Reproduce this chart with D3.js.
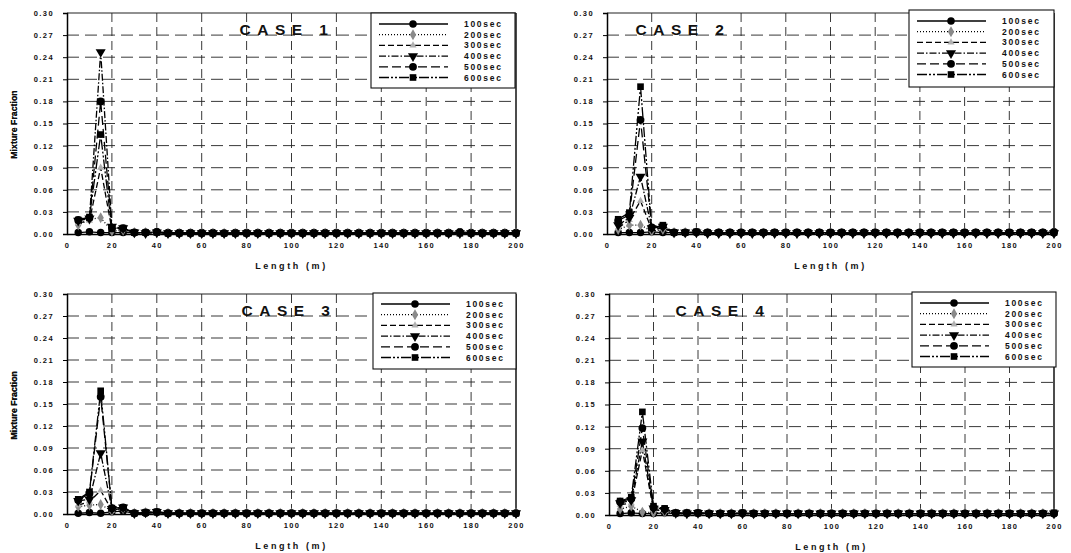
<!DOCTYPE html>
<html>
<head>
<meta charset="utf-8">
<script src="https://cdn.jsdelivr.net/npm/d3@7"></script>
<style>
  body { margin: 0; background: #fff; }
  svg { display: block; }
  text { font-family: "Liberation Sans", Arial, sans-serif; fill: #111; }
</style>
</head>
<body>
<div id="container"></div>
<script>
// x positions (m)
const lengths = [5,10,15,20,25,30,35,40,45,50, 55,60,65,70,75,80,85,90,95,100,
  105,110,115,120,125,130,135,140,145,150, 155,160,165,170,175,180,185,190,195,200];
const seriesNames = ['100sec','200sec','300sec','400sec','500sec','600sec'];
const xTicks = [0,20,40,60,80,100,120,140,160,180,200];
const yTicks = [0,0.03,0.06,0.09,0.12,0.15,0.18,0.21,0.24,0.27,0.30];

// CASE 1
const c1s100 = [0.002,0.003,0.002,0.002,0.002,0.002,0.002,0.003,0.002,0.002, 0.002,0.002,0.002,0.001,0.002,0.002,0.002,0.002,0.002,0.002,
  0.002,0.002,0.002,0.002,0.002,0.002,0.002,0.002,0.002,0.002, 0.002,0.002,0.002,0.002,0.003,0.002,0.002,0.002,0.002,0.002];
const c1s200 = [0.012,0.020,0.022,0.004,0.005,0.002,0.002,0.002,0.001,0.001, 0.001,0.001,0.001,0.001,0.001,0.001,0.001,0.001,0.001,0.001,
  0.001,0.001,0.001,0.001,0.001,0.001,0.001,0.001,0.001,0.001, 0.001,0.001,0.001,0.001,0.001,0.001,0.001,0.001,0.001,0.001];
const c1s300 = [0.015,0.018,0.090,0.006,0.007,0.002,0.002,0.002,0.001,0.001, 0.001,0.001,0.001,0.001,0.001,0.001,0.001,0.001,0.001,0.001,
  0.001,0.001,0.001,0.001,0.001,0.001,0.001,0.001,0.001,0.001, 0.001,0.001,0.001,0.001,0.001,0.001,0.001,0.001,0.001,0.001];
const c1s400 = [0.018,0.021,0.247,0.010,0.008,0.002,0.001,0.002,0.001,0.001, 0.001,0.001,0.001,0.001,0.001,0.001,0.001,0.001,0.001,0.001,
  0.001,0.001,0.001,0.001,0.001,0.001,0.001,0.001,0.001,0.001, 0.001,0.001,0.001,0.001,0.001,0.001,0.001,0.001,0.001,0.001];
const c1s500 = [0.019,0.022,0.180,0.008,0.008,0.002,0.002,0.003,0.001,0.001, 0.001,0.001,0.001,0.001,0.001,0.001,0.001,0.001,0.001,0.001,
  0.001,0.001,0.001,0.001,0.001,0.001,0.001,0.001,0.001,0.001, 0.001,0.001,0.001,0.001,0.002,0.001,0.001,0.001,0.001,0.001];
const c1s600 = [0.019,0.023,0.135,0.007,0.008,0.002,0.002,0.002,0.001,0.001, 0.001,0.001,0.001,0.001,0.001,0.001,0.001,0.001,0.001,0.001,
  0.001,0.001,0.001,0.001,0.001,0.001,0.001,0.001,0.001,0.001, 0.001,0.001,0.001,0.001,0.001,0.001,0.001,0.001,0.001,0.001];

// CASE 2
const c2s100 = [0.002,0.002,0.002,0.003,0.002,0.002,0.002,0.002,0.002,0.002, 0.002,0.002,0.002,0.002,0.002,0.002,0.002,0.002,0.002,0.002,
  0.002,0.002,0.002,0.002,0.002,0.002,0.002,0.002,0.002,0.002, 0.002,0.002,0.002,0.002,0.002,0.002,0.002,0.002,0.002,0.003];
const c2s200 = [0.006,0.012,0.012,0.004,0.006,0.002,0.002,0.002,0.001,0.001, 0.001,0.001,0.001,0.001,0.001,0.001,0.001,0.001,0.001,0.001,
  0.001,0.001,0.001,0.001,0.001,0.001,0.001,0.001,0.001,0.001, 0.001,0.001,0.001,0.001,0.001,0.001,0.001,0.001,0.001,0.001];
const c2s300 = [0.008,0.019,0.045,0.006,0.008,0.002,0.002,0.002,0.001,0.001, 0.001,0.001,0.001,0.001,0.001,0.001,0.001,0.001,0.001,0.001,
  0.001,0.001,0.001,0.001,0.001,0.001,0.001,0.001,0.001,0.001, 0.001,0.001,0.001,0.001,0.001,0.001,0.001,0.001,0.001,0.001];
const c2s400 = [0.012,0.022,0.078,0.008,0.010,0.002,0.002,0.002,0.001,0.001, 0.001,0.001,0.001,0.001,0.001,0.001,0.001,0.001,0.001,0.001,
  0.001,0.001,0.001,0.001,0.001,0.001,0.001,0.001,0.001,0.001, 0.001,0.001,0.001,0.001,0.001,0.001,0.001,0.001,0.001,0.001];
const c2s500 = [0.018,0.026,0.155,0.009,0.011,0.002,0.002,0.003,0.002,0.002, 0.002,0.002,0.002,0.002,0.002,0.002,0.002,0.002,0.002,0.002,
  0.002,0.002,0.002,0.002,0.002,0.002,0.002,0.002,0.002,0.002, 0.002,0.002,0.002,0.002,0.002,0.002,0.002,0.002,0.002,0.002];
const c2s600 = [0.020,0.029,0.200,0.008,0.012,0.002,0.002,0.003,0.002,0.002, 0.002,0.002,0.002,0.002,0.002,0.002,0.002,0.002,0.002,0.002,
  0.002,0.002,0.002,0.002,0.002,0.002,0.002,0.002,0.002,0.002, 0.002,0.002,0.002,0.002,0.002,0.002,0.002,0.002,0.002,0.002];

// CASE 3
const c3s100 = [0.001,0.002,0.001,0.003,0.004,0.001,0.001,0.002,0.001,0.001, 0.001,0.001,0.001,0.001,0.001,0.001,0.001,0.001,0.001,0.001,
  0.001,0.001,0.001,0.001,0.001,0.001,0.001,0.001,0.001,0.001, 0.001,0.001,0.001,0.001,0.001,0.001,0.001,0.001,0.001,0.001];
const c3s200 = [0.010,0.012,0.013,0.004,0.007,0.001,0.002,0.002,0.001,0.001, 0.001,0.001,0.001,0.001,0.001,0.001,0.001,0.001,0.001,0.001,
  0.001,0.001,0.001,0.001,0.001,0.001,0.001,0.001,0.001,0.001, 0.001,0.001,0.001,0.001,0.001,0.001,0.001,0.001,0.001,0.001];
const c3s300 = [0.012,0.017,0.032,0.005,0.008,0.001,0.002,0.002,0.001,0.001, 0.001,0.001,0.001,0.001,0.001,0.001,0.001,0.001,0.001,0.001,
  0.001,0.001,0.001,0.001,0.001,0.001,0.001,0.001,0.001,0.001, 0.001,0.001,0.001,0.001,0.001,0.001,0.001,0.001,0.001,0.001];
const c3s400 = [0.018,0.020,0.083,0.007,0.009,0.001,0.002,0.003,0.001,0.001, 0.001,0.001,0.001,0.001,0.001,0.001,0.001,0.001,0.001,0.001,
  0.001,0.001,0.001,0.001,0.001,0.001,0.001,0.001,0.001,0.001, 0.001,0.001,0.001,0.001,0.001,0.001,0.001,0.001,0.001,0.001];
const c3s500 = [0.019,0.028,0.160,0.008,0.009,0.001,0.002,0.003,0.001,0.001, 0.001,0.001,0.001,0.001,0.001,0.001,0.001,0.001,0.001,0.001,
  0.001,0.001,0.001,0.001,0.001,0.001,0.001,0.001,0.001,0.001, 0.001,0.001,0.001,0.001,0.001,0.001,0.001,0.001,0.001,0.001];
const c3s600 = [0.020,0.030,0.168,0.008,0.009,0.001,0.002,0.003,0.001,0.001, 0.001,0.001,0.001,0.001,0.001,0.001,0.001,0.001,0.001,0.001,
  0.001,0.001,0.001,0.001,0.001,0.001,0.001,0.001,0.001,0.001, 0.001,0.001,0.001,0.001,0.001,0.001,0.001,0.001,0.001,0.001];

// CASE 4
const c4s100 = [0.002,0.003,0.002,0.002,0.003,0.002,0.002,0.002,0.002,0.002, 0.002,0.002,0.002,0.002,0.002,0.002,0.002,0.002,0.002,0.002,
  0.002,0.002,0.002,0.002,0.002,0.002,0.002,0.002,0.002,0.002, 0.002,0.002,0.002,0.002,0.002,0.002,0.002,0.002,0.002,0.002];
const c4s200 = [0.008,0.012,0.004,0.003,0.004,0.002,0.002,0.002,0.002,0.002, 0.002,0.002,0.002,0.002,0.002,0.002,0.002,0.002,0.002,0.002,
  0.002,0.002,0.002,0.002,0.002,0.002,0.002,0.002,0.002,0.002, 0.002,0.002,0.002,0.002,0.002,0.002,0.002,0.002,0.002,0.002];
const c4s300 = [0.014,0.016,0.088,0.007,0.006,0.002,0.002,0.002,0.002,0.002, 0.002,0.002,0.002,0.002,0.002,0.002,0.002,0.002,0.002,0.002,
  0.002,0.002,0.002,0.002,0.002,0.002,0.002,0.002,0.002,0.002, 0.002,0.002,0.002,0.002,0.002,0.002,0.002,0.002,0.002,0.002];
const c4s400 = [0.016,0.020,0.100,0.009,0.007,0.003,0.002,0.003,0.002,0.002, 0.002,0.002,0.002,0.002,0.002,0.002,0.002,0.002,0.002,0.002,
  0.002,0.002,0.002,0.002,0.002,0.002,0.002,0.002,0.002,0.002, 0.002,0.002,0.002,0.002,0.002,0.002,0.002,0.002,0.002,0.002];
const c4s500 = [0.018,0.022,0.118,0.010,0.008,0.003,0.003,0.003,0.002,0.002, 0.002,0.003,0.002,0.002,0.002,0.002,0.002,0.002,0.002,0.002,
  0.002,0.002,0.002,0.002,0.002,0.002,0.002,0.002,0.002,0.002, 0.002,0.002,0.002,0.002,0.002,0.002,0.002,0.002,0.002,0.002];
const c4s600 = [0.019,0.024,0.140,0.012,0.009,0.003,0.003,0.003,0.002,0.002, 0.002,0.003,0.002,0.002,0.002,0.002,0.002,0.002,0.002,0.002,
  0.002,0.002,0.002,0.002,0.002,0.002,0.002,0.002,0.002,0.002, 0.002,0.002,0.002,0.002,0.002,0.002,0.002,0.002,0.002,0.003];

const W = 1071, H = 553;
const svg = d3.select('#container').append('svg').attr('width', W).attr('height', H);

// line style + marker per series
const dashes = [null, '1,2', '6,3', '7,2,1.5,2', '9,4', '10,2,2,2,2,2'];
const markerType = [d3.symbolCircle, d3.symbolDiamond, d3.symbolTriangle, d3.symbolTriangle, d3.symbolCircle, d3.symbolSquare];
const markerFill = ['#000', '#8a8a8a', '#b0b0b0', '#000', '#000', '#000'];
const markerSize = [44, 34, 22, 44, 48, 44];
const markerRot = [0, 0, 0, 180, 0, 0];

const panels = [
  {title: 'CASE 1', series: [c1s100,c1s200,c1s300,c1s400,c1s500,c1s600], l: 67, r: 516, t: 13, b: 234, tx: 287, ty: 35, lg: [371, 13, 144, 75]},
  {title: 'CASE 2', series: [c2s100,c2s200,c2s300,c2s400,c2s500,c2s600], l: 607, r: 1054, t: 13, b: 234, tx: 683, ty: 35, lg: [909, 10, 145, 77]},
  {title: 'CASE 3', series: [c3s100,c3s200,c3s300,c3s400,c3s500,c3s600], l: 67, r: 516, t: 294, b: 514, tx: 289, ty: 316, lg: [373, 293, 143, 76]},
  {title: 'CASE 4', series: [c4s100,c4s200,c4s300,c4s400,c4s500,c4s600], l: 609, r: 1054, t: 294, b: 515, tx: 723, ty: 316, lg: [912, 292, 144, 75]}
];

panels.forEach(drawPanel);

function drawPanel(p){
  const x = d3.scaleLinear().domain([0, 200]).range([p.l, p.r]);
  const y = d3.scaleLinear().domain([0, 0.30]).range([p.b, p.t]);
  const g = svg.append('g');

  // dashed grid
  g.selectAll('.vg').data(xTicks.slice(1, -1)).enter().append('line')
    .attr('x1', d => x(d)).attr('x2', d => x(d)).attr('y1', p.t).attr('y2', p.b)
    .attr('stroke', '#222').attr('stroke-width', 0.9).attr('stroke-dasharray', '9,5');
  g.selectAll('.hg').data(yTicks.slice(1, -1)).enter().append('line')
    .attr('x1', p.l).attr('x2', p.r).attr('y1', d => y(d)).attr('y2', d => y(d))
    .attr('stroke', '#222').attr('stroke-width', 0.9).attr('stroke-dasharray', '12,6');

  // frame top/right
  g.append('line').attr('x1', p.l).attr('x2', p.r).attr('y1', p.t).attr('y2', p.t)
    .attr('stroke', '#222').attr('stroke-width', 1.1);
  g.append('line').attr('x1', p.r).attr('x2', p.r).attr('y1', p.t).attr('y2', p.b)
    .attr('stroke', '#111').attr('stroke-width', 1.5);

  // axes
  const yAxis = d3.axisLeft(y).tickValues(yTicks).tickSize(4).tickPadding(9).tickFormat(d3.format('.2f'));
  const xAxis = d3.axisBottom(x).tickValues(xTicks).tickSize(0).tickPadding(9).tickFormat(d3.format('d'));
  const ya = g.append('g').attr('transform', 'translate(' + p.l + ',0)').call(yAxis);
  const xa = g.append('g').attr('transform', 'translate(0,' + p.b + ')').call(xAxis);
  [ya, xa].forEach(a => {
    a.select('.domain').attr('stroke', '#000').attr('stroke-width', 1.5);
    a.selectAll('.tick line').attr('stroke', '#000');
    a.selectAll('text').attr('font-size', 7.5).attr('font-weight', 'bold')
      .attr('letter-spacing', 1.4).attr('fill', '#111');
  });

  // series
  const line = d3.line().x((d, i) => x(lengths[i])).y(d => y(d));
  p.series.forEach((vals, k) => {
    g.append('path').datum(vals).attr('d', line)
      .attr('fill', 'none').attr('stroke', '#000').attr('stroke-width', 1.3)
      .attr('stroke-dasharray', dashes[k]);
  });
  p.series.forEach((vals, k) => {
    const sym = d3.symbol().type(markerType[k]).size(markerSize[k]);
    g.selectAll(null).data(vals).enter().append('path')
      .attr('d', sym)
      .attr('transform', (d, i) => 'translate(' + x(lengths[i]) + ',' + y(d) + ') rotate(' + markerRot[k] + ')')
      .attr('fill', markerFill[k]);
  });

  // title
  g.append('text').attr('x', p.tx).attr('y', p.ty).attr('text-anchor', 'middle')
    .attr('font-size', 15.5).attr('font-weight', 'bold').attr('letter-spacing', 6.5)
    .text(p.title);

  // axis titles
  g.append('text').attr('x', (p.l + p.r) / 2).attr('y', p.b + 35).attr('text-anchor', 'middle')
    .attr('font-size', 9).attr('font-weight', 'bold').attr('letter-spacing', 2.6)
    .text('Length (m)');
  g.append('text').attr('transform', 'translate(17,' + ((p.t + p.b) / 2 + 1) + ') rotate(-90)')
    .attr('text-anchor', 'middle').attr('font-size', 8.8).attr('font-weight', 'bold')
    .text('Mixture Fraction');

  // legend
  const [lx, ly, lw, lh] = p.lg;
  const lgG = g.append('g');
  lgG.append('rect').attr('x', lx).attr('y', ly).attr('width', lw).attr('height', lh)
    .attr('fill', '#fff').attr('stroke', '#111').attr('stroke-width', 1.1);
  seriesNames.forEach((name, k) => {
    const yy = ly + 11 + k * 10.7;
    lgG.append('line').attr('x1', lx + 8).attr('x2', lx + 77).attr('y1', yy).attr('y2', yy)
      .attr('stroke', '#000').attr('stroke-width', 1.3).attr('stroke-dasharray', dashes[k]);
    lgG.append('path').attr('d', d3.symbol().type(markerType[k]).size(markerSize[k])())
      .attr('transform', 'translate(' + (lx + 42) + ',' + yy + ') rotate(' + markerRot[k] + ')')
      .attr('fill', markerFill[k]);
    lgG.append('text').attr('x', lx + 93).attr('y', yy + 3)
      .attr('font-size', 8.5).attr('font-weight', 'bold').attr('letter-spacing', 1.7)
      .text(name);
  });
}
</script>
</body>
</html>
